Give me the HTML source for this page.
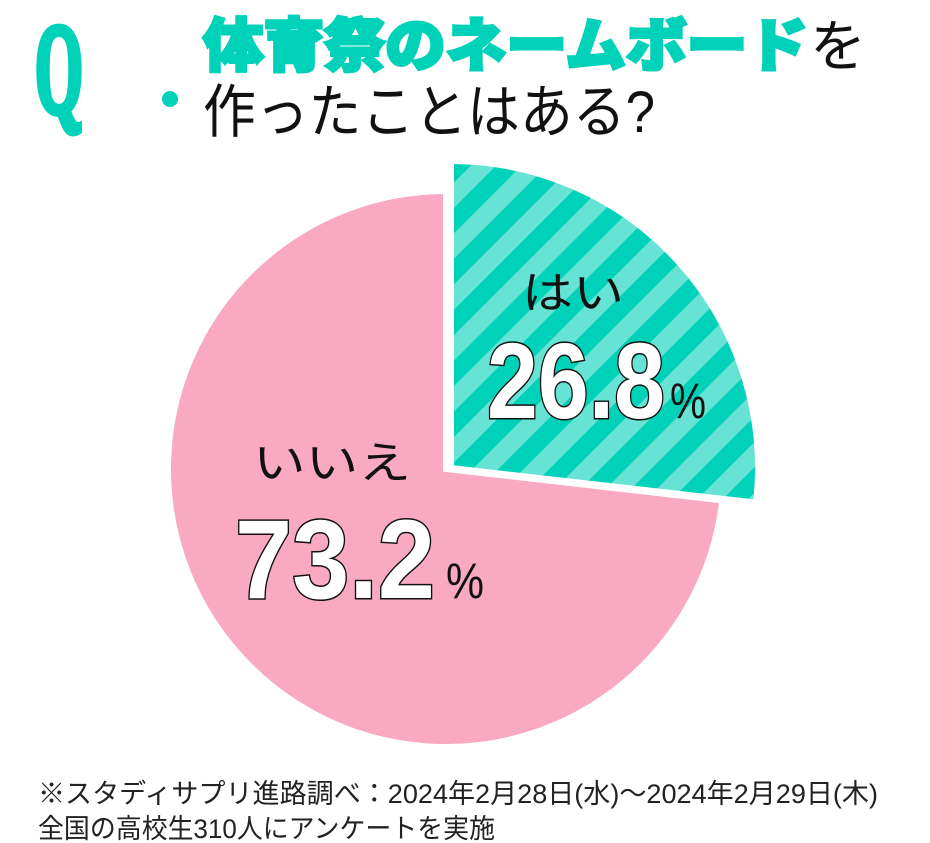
<!DOCTYPE html>
<html><head><meta charset="utf-8"><style>
html,body{margin:0;padding:0;background:#fff;width:930px;height:843px;overflow:hidden}
svg{display:block}
</style></head><body>
<svg id="chart" width="930" height="843" viewBox="0 0 930 843" xmlns="http://www.w3.org/2000/svg">
<defs>
<pattern id="stripes" patternUnits="userSpaceOnUse" width="36" height="36" patternTransform="rotate(45)">
<rect width="36" height="36" fill="#66e3d4"/>
<rect width="18" height="36" fill="#00d2b9"/>
</pattern>
</defs>
<text x="35" y="112" font-family="Liberation Serif, serif" font-weight="bold" font-size="128" fill="#00d2b9" stroke="#00d2b9" stroke-width="7" textLength="48" lengthAdjust="spacingAndGlyphs">Q</text>
<circle cx="170" cy="99" r="8" fill="#00d2b9"/>
<text x="203" y="66" font-family="Liberation Sans, Noto Sans CJK JP, sans-serif" font-weight="900" font-size="58" fill="#00d2b9" stroke="#00d2b9" stroke-width="3" textLength="605" lengthAdjust="spacingAndGlyphs">体育祭のネームボード</text>
<text x="810" y="66" font-family="Liberation Sans, Noto Sans CJK JP, sans-serif" font-size="56" fill="#111">を</text>
<text x="203" y="132" font-family="Liberation Sans, Noto Sans CJK JP, sans-serif" font-size="58" fill="#111" textLength="452" lengthAdjust="spacingAndGlyphs">作ったことはある?</text>
<g id="slices"></g>
<text x="522" y="308" font-family="Liberation Sans, Noto Sans CJK JP, sans-serif" font-size="44" fill="#111" textLength="102" lengthAdjust="spacingAndGlyphs">はい</text>
<text id="val0" x="487" y="418" font-family="Liberation Sans, sans-serif" font-weight="bold" font-size="108" fill="#fff" stroke="#111" stroke-width="3" paint-order="stroke" textLength="178" lengthAdjust="spacingAndGlyphs"></text>
<text x="670" y="418" font-family="Liberation Sans, sans-serif" font-size="50" fill="#111" textLength="36" lengthAdjust="spacingAndGlyphs">%</text>
<text x="253" y="478" font-family="Liberation Sans, Noto Sans CJK JP, sans-serif" font-size="44" fill="#111" textLength="158" lengthAdjust="spacingAndGlyphs">いいえ</text>
<text id="val1" x="235" y="598" font-family="Liberation Sans, sans-serif" font-weight="bold" font-size="112" fill="#fff" stroke="#111" stroke-width="3" paint-order="stroke" textLength="200" lengthAdjust="spacingAndGlyphs"></text>
<text x="446" y="598" font-family="Liberation Sans, sans-serif" font-size="50" fill="#111" textLength="38" lengthAdjust="spacingAndGlyphs">%</text>
<text x="38" y="803" font-family="Liberation Sans, Noto Sans CJK JP, sans-serif" font-size="27" fill="#222" textLength="840" lengthAdjust="spacingAndGlyphs">※スタディサプリ進路調べ：2024年2月28日(水)～2024年2月29日(木)</text>
<text x="38" y="838" font-family="Liberation Sans, Noto Sans CJK JP, sans-serif" font-size="27" fill="#222" textLength="457" lengthAdjust="spacingAndGlyphs">全国の高校生310人にアンケートを実施</text>
</svg>
<script>
const categories = ["はい", "いいえ"];
const values = [26.8, 73.2];
const valueLabels = ["26.8", "73.2"];
(function(){
  const g = document.getElementById('slices');
  const total = values.reduce((a,b)=>a+b,0);
  const geo = [{cx:451,cy:468,r:307,fill:'url(#stripes)'},{cx:446,cy:469,r:278,fill:'#f9a9c2'}];
  const ns = 'http://www.w3.org/2000/svg';
  let acc = 0;
  values.forEach((v,i)=>{
    const a0 = acc/total*2*Math.PI; acc += v;
    const a1 = acc/total*2*Math.PI;
    const s = geo[i];
    const x0 = s.cx + s.r*Math.sin(a0), y0 = s.cy - s.r*Math.cos(a0);
    const x1 = s.cx + s.r*Math.sin(a1), y1 = s.cy - s.r*Math.cos(a1);
    const large = (a1-a0) > Math.PI ? 1 : 0;
    const p = document.createElementNS(ns,'path');
    p.setAttribute('d', `M${s.cx},${s.cy} L${x0},${y0} A${s.r},${s.r} 0 ${large} 1 ${x1},${y1} Z`);
    p.setAttribute('fill', s.fill);
    p.setAttribute('stroke', '#fff');
    p.setAttribute('stroke-width', '6');
    
    
    if (i===0) g.appendChild(p); else g.insertBefore(p, g.firstChild);
  });
  document.getElementById('val0').textContent = valueLabels[0];
  document.getElementById('val1').textContent = valueLabels[1];
})();
</script>
</body></html>
